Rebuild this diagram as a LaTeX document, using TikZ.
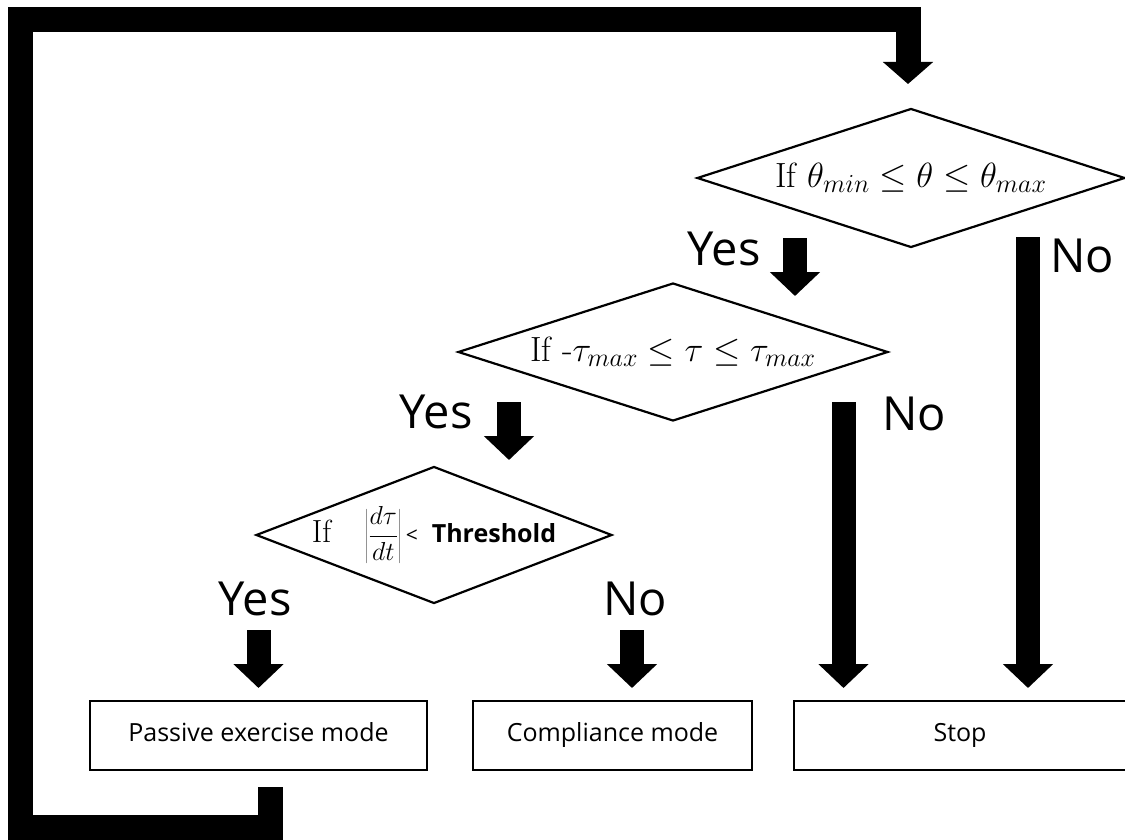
\RequirePackage{fix-cm}
\documentclass[tikz,border=0pt]{standalone}
\usepackage{fontspec}
\newfontfamily\lab{Open Sans}
\DeclareMathSizes{35}{35}{26}{20}
\DeclareMathSizes{26}{26}{19}{15}
\usetikzlibrary{shapes.geometric,arrows.meta}
\begin{document}
\begin{tikzpicture}[x=1pt,y=-1pt,
  dec/.style={diamond, draw, line width=2.2pt, inner sep=0pt, aspect=3.1},
  modebox/.style={rectangle, draw, line width=2.2pt, inner sep=0pt, minimum height=69pt,
    text height=17pt, text depth=5pt, font=\lab\fontsize{25}{28}\selectfont},
  blk/.style={line width=24pt, -{Triangle[width=49pt,length=24pt]}},
  loopline/.style={line width=25pt, line join=miter, -{Triangle[width=49pt,length=22pt]}},
  yn/.style={font=\lab\fontsize{47}{56}\selectfont, inner sep=0pt, anchor=base},
  mtext/.style={font=\fontsize{35}{38}\selectfont}
]
\useasboundingbox (0,0) rectangle (1125,840);

% decisions
\node[dec, minimum width=428pt, minimum height=139pt, mtext] (d1) at (911,178)
  {If $\theta_{min}\leq\theta\leq\theta_{max}$};
\node[dec, minimum width=430pt, minimum height=138pt, mtext] (d2) at (673,352)
  {If -$\tau_{max}\leq\tau\leq\tau_{max}$};
\node[dec, minimum width=356pt, minimum height=137pt] (d3) at (434,535) {};
\node[inner sep=0pt, font=\fontsize{26}{30}\selectfont] (t3) at (d3.center)
  {{\fontsize{32}{34}\selectfont If}\hspace{34pt}$\left|\displaystyle\frac{d\tau}{dt}\right|$\,{\lab\fontsize{21}{24}\selectfont<\hspace{14pt}{\fontsize{25}{28}\selectfont\bfseries Threshold}}};

% mode boxes
\node[modebox, minimum width=337pt] (pem) at (258.5,735.5) {Passive exercise mode};
\node[modebox, minimum width=279pt] (cm) at (612.5,735.5) {Compliance mode};
\node[modebox, minimum width=332pt] (stop) at (960,735.5) {Stop};

% arrow coordinates
\coordinate (y1s) at (795,238);  \coordinate (y1e) at (795,296);
\coordinate (n1s) at (1028,237); \coordinate (n1e) at (1028,688);
\coordinate (y2s) at (509,402);  \coordinate (y2e) at (509,460);
\coordinate (n2s) at (843.5,402);\coordinate (n2e) at (843.5,688);
\coordinate (y3s) at (258.5,630);\coordinate (y3e) at (258.5,688);
\coordinate (n3s) at (632,630);  \coordinate (n3e) at (632,688);

\draw[blk] (y1s) -- (y1e);
\draw[blk] (n1s) -- (n1e);
\draw[blk] (y2s) -- (y2e);
\draw[blk] (n2s) -- (n2e);
\draw[blk] (y3s) -- (y3e);
\draw[blk] (n3s) -- (n3e);

% labels
\node[yn] (ly1) at (724,265) {Yes};
\node[yn] (ln1) at (1082,272) {No};
\node[yn] (ly2) at (436,428) {Yes};
\node[yn] (ln2) at (914,430) {No};
\node[yn] (ly3) at (255,615) {Yes};
\node[yn] (ln3) at (635,615) {No};

% feedback loop
\coordinate (ls) at (270.5,787);
\coordinate (le) at (908,84);
\draw[loopline] (ls) -- (270.5,827.5) -- (20.5,827.5) -- (20.5,19.5) -- (908,19.5) -- (le);
\end{tikzpicture}
\end{document}
